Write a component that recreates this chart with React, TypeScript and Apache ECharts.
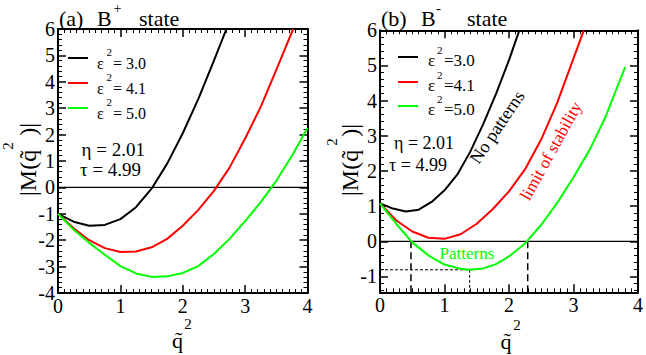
import React, { useEffect, useRef } from "react";
import * as echarts from "echarts";

const FONT = "Liberation Serif";

// ---------- Panel (a): B+ state ----------
const aQ30 = [0, 0.25, 0.5, 0.75, 1.0, 1.25, 1.5, 1.75, 2.0, 2.25, 2.5, 2.7];
const aM30 = [-1, -1.3, -1.45, -1.42, -1.2, -0.75, -0.05, 0.9, 2.05, 3.35, 4.8, 6.0];
const aQ41 = [0, 0.25, 0.5, 0.75, 1.0, 1.25, 1.5, 1.75, 2.0, 2.25, 2.5, 2.75, 3.0, 3.25, 3.5, 3.77];
const aM41 = [-1, -1.55, -2.0, -2.3, -2.45, -2.43, -2.27, -1.95, -1.45, -0.85, -0.13, 0.75, 1.85, 3.05, 4.45, 6.0];
const aQ50 = [0, 0.25, 0.5, 0.75, 1.0, 1.25, 1.5, 1.75, 2.0, 2.25, 2.5, 2.75, 3.0, 3.25, 3.5, 3.75, 4.0];
const aM50 = [-1, -1.6, -2.1, -2.55, -2.98, -3.26, -3.39, -3.37, -3.24, -2.98, -2.52, -1.95, -1.28, -0.56, 0.25, 1.2, 2.25];

// ---------- Panel (b): B- state ----------
const bQ30 = [0, 0.2, 0.4, 0.6, 0.8, 1.0, 1.2, 1.4, 1.6, 1.8, 2.0, 2.16];
const bM30 = [1.08, 0.93, 0.85, 0.9, 1.12, 1.45, 1.9, 2.55, 3.33, 4.2, 5.15, 6.0];
const bQ41 = [0, 0.25, 0.5, 0.75, 1.0, 1.25, 1.5, 1.75, 2.0, 2.25, 2.5, 2.75, 3.0, 3.16];
const bM41 = [1.08, 0.6, 0.28, 0.1, 0.07, 0.2, 0.5, 0.92, 1.42, 2.05, 2.9, 3.95, 5.2, 6.0];
const bQ50 = [0, 0.25, 0.5, 0.75, 1.0, 1.25, 1.4, 1.6, 1.8, 2.0, 2.25, 2.5, 2.75, 3.0, 3.25, 3.5, 3.8];
const bM50 = [1.08, 0.5, -0.03, -0.4, -0.66, -0.78, -0.81, -0.77, -0.65, -0.43, -0.06, 0.47, 1.1, 1.82, 2.6, 3.55, 4.95];

// pattern band guides in panel (b)
const patternEdges = [0.48, 2.29];
const patternMin = [1.39, -0.81];

// axis ranges
const qRange = [0, 4];
const aMRange = [-4, 6];
const bMRange = [-1.45, 6];

const legendLabels = ["3.0", "4.1", "5.0"];
const COLORS = ["#000000", "#ff0000", "#00ff00"];

const pairs = (xs: number[], ys: number[]) => xs.map((x, i) => [x, ys[i]]);

function txt(x: number, y: number, text: string, size: number, o: any = {}) {
  const align = o.align || "left";
  return {
    type: "text",
    x,
    y,
    rotation: o.rot || 0,
    z: 100,
    style: {
      text,
      fill: o.color || "#000",
      fontSize: size,
      fontFamily: FONT,
      align,
      verticalAlign: "middle",
      textAlign: align,
      textVerticalAlign: "middle",
    },
  };
}

function hline(x1: number, x2: number, y: number, color: string) {
  return {
    type: "line",
    z: 100,
    shape: { x1, y1: y, x2, y2: y },
    style: { stroke: color, lineWidth: 2 },
  };
}

function makeXAxis(grid: number, pos: string, labels: boolean) {
  return {
    type: "value",
    gridIndex: grid,
    position: pos,
    min: qRange[0],
    max: qRange[1],
    interval: 1,
    axisLine: { show: true, onZero: false, lineStyle: { color: "#000", width: 2 } },
    axisTick: { show: true, inside: true, length: 8, lineStyle: { color: "#000", width: 1.5 } },
    minorTick: { show: true, splitNumber: 10, length: 4, lineStyle: { color: "#000", width: 1 } },
    axisLabel: { show: labels, fontSize: 20, fontFamily: FONT, color: "#000", margin: 3 },
    splitLine: { show: false },
  };
}

function makeYAxis(grid: number, pos: string, labels: boolean, range: number[], fixedInterval: boolean) {
  const ax: any = {
    type: "value",
    gridIndex: grid,
    position: pos,
    min: range[0],
    max: range[1],
    axisLine: { show: true, onZero: false, lineStyle: { color: "#000", width: 2 } },
    axisTick: { show: true, inside: true, length: 8, lineStyle: { color: "#000", width: 1.5 } },
    minorTick: { show: true, splitNumber: 5, length: 4, lineStyle: { color: "#000", width: 1 } },
    axisLabel: {
      show: labels,
      fontSize: 20,
      fontFamily: FONT,
      color: "#000",
      margin: 3,
      formatter: (v: number) => (Math.abs(v - Math.round(v)) < 1e-9 ? String(Math.round(v)) : ""),
    },
    splitLine: { show: false },
  };
  if (fixedInterval) ax.interval = 1;
  else ax.splitNumber = 8;
  return ax;
}

function curve(xs: number[], ys: number[], color: string, xi: number, yi: number) {
  return {
    type: "line",
    xAxisIndex: xi,
    yAxisIndex: yi,
    data: pairs(xs, ys),
    symbol: "none",
    smooth: false,
    lineStyle: { color, width: 2, join: "round" },
    z: 3,
  };
}

function guide(pts: number[][], xi: number, yi: number, width: number, dash: any) {
  return {
    type: "line",
    xAxisIndex: xi,
    yAxisIndex: yi,
    data: pts,
    symbol: "none",
    lineStyle: { color: "#000", width, type: dash },
    z: 2,
  };
}

export default function App() {
  const ref = useRef<HTMLDivElement>(null);

  useEffect(() => {
    if (!ref.current) return;
    const chart = echarts.init(ref.current, null, { renderer: "svg" });

    const graphics: any[] = [];
    // titles
    graphics.push(txt(59, 18, "(a)", 22));
    graphics.push(txt(97, 18, "B", 22));
    graphics.push(txt(113.5, 8, "+", 14));
    graphics.push(txt(139, 18, "state", 22));
    graphics.push(txt(381, 18, "(b)", 22));
    graphics.push(txt(421, 18, "B", 22));
    graphics.push(txt(436, 8, "-", 15));
    graphics.push(txt(467, 18, "state", 22));

    // legend panel (a)
    const aLegY = [58, 83, 108];
    legendLabels.forEach((lab, i) => {
      const y = aLegY[i];
      graphics.push(hline(68, 88, y, COLORS[i]));
      graphics.push(txt(97, y + 5, "ε", 16));
      graphics.push(txt(106.5, y - 6.5, "2", 11));
      graphics.push(txt(113, y + 5, "= " + lab, 16));
    });
    // legend panel (b)
    const bLegY = [57, 82, 106];
    legendLabels.forEach((lab, i) => {
      const y = bLegY[i];
      graphics.push(hline(398, 418, y, COLORS[i]));
      graphics.push(txt(428, y + 3, "ε", 17));
      graphics.push(txt(437, y - 7, "2", 11));
      graphics.push(txt(444, y + 3, "=" + lab, 17));
    });

    // parameters
    graphics.push(txt(81.5, 149, "η = 2.01", 19));
    graphics.push(txt(80, 169, "τ = 4.99", 19));
    graphics.push(txt(394, 143, "η = 2.01", 18));
    graphics.push(txt(389, 165, "τ = 4.99", 18));

    // annotations panel (b)
    graphics.push(txt(497, 127, "No patterns", 18, { align: "center", rot: (56 * Math.PI) / 180 }));
    graphics.push(txt(551, 151, "limit of stability", 17, { align: "center", rot: (61 * Math.PI) / 180, color: "#ff0000" }));
    graphics.push(txt(467, 253, "Patterns", 17, { align: "center", color: "#00ff00" }));

    // axis names
    graphics.push(txt(177.5, 340, "q\u0303", 22, { align: "center" }));
    graphics.push(txt(188, 324, "2", 15, { align: "center" }));
    graphics.push(txt(506, 341, "q\u0303", 22, { align: "center" }));
    graphics.push(txt(517, 325, "2", 15, { align: "center" }));

    const R = Math.PI / 2;
    graphics.push(txt(28, 196, "|M(q\u0303", 24, { rot: R }));
    graphics.push(txt(28, 123, ")|", 24, { rot: R, align: "right" }));
    graphics.push(txt(8, 146, "2", 15, { rot: R, align: "center" }));
    graphics.push(txt(350, 196, "|M(q\u0303", 24, { rot: R }));
    graphics.push(txt(350, 124, ")|", 24, { rot: R, align: "right" }));
    graphics.push(txt(332, 142, "2", 15, { rot: R, align: "center" }));

    const option: any = {
      animation: false,
      backgroundColor: "#ffffff",
      textStyle: { fontFamily: FONT },
      grid: [
        { left: 58, top: 29, width: 249.5, height: 264 },
        { left: 380, top: 30.3, width: 258.5, height: 262 },
      ],
      xAxis: [
        makeXAxis(0, "bottom", true),
        makeXAxis(0, "top", false),
        makeXAxis(1, "bottom", true),
        makeXAxis(1, "top", false),
      ],
      yAxis: [
        makeYAxis(0, "left", true, aMRange, true),
        makeYAxis(0, "right", false, aMRange, true),
        makeYAxis(1, "left", true, bMRange, false),
        makeYAxis(1, "right", false, bMRange, false),
      ],
      series: [
        guide([[qRange[0], 0], [qRange[1], 0]], 0, 0, 1.2, "solid"),
        curve(aQ30, aM30, COLORS[0], 0, 0),
        curve(aQ41, aM41, COLORS[1], 0, 0),
        curve(aQ50, aM50, COLORS[2], 0, 0),

        guide([[qRange[0], 0], [qRange[1], 0]], 2, 2, 1.2, "solid"),
        guide([[patternEdges[0], 0], [patternEdges[0], bMRange[0]]], 2, 2, 1.5, [7, 4]),
        guide([[patternEdges[1], 0], [patternEdges[1], bMRange[0]]], 2, 2, 1.5, [7, 4]),
        guide([[qRange[0], patternMin[1]], [patternMin[0], patternMin[1]]], 2, 2, 1, [3, 2]),
        guide([[patternMin[0], patternMin[1]], [patternMin[0], bMRange[0]]], 2, 2, 1, [3, 2]),
        curve(bQ30, bM30, COLORS[0], 2, 2),
        curve(bQ41, bM41, COLORS[1], 2, 2),
        curve(bQ50, bM50, COLORS[2], 2, 2),
      ],
      graphic: graphics,
    };
    chart.setOption(option);
    return () => chart.dispose();
  }, []);

  return (
    <div
      ref={ref}
      style={{ position: "absolute", left: 0, top: 0, width: 646, height: 355, background: "#fff" }}
    />
  );
}
